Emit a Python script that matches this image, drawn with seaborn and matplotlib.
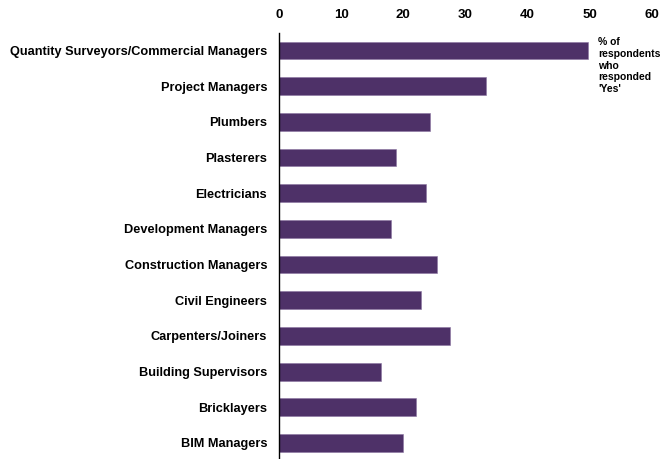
import matplotlib
matplotlib.use("Agg")
import matplotlib.pyplot as plt
import seaborn as sns
import pandas as pd

# Share of respondents answering 'Yes', by occupation
occupations = [
    "Quantity Surveyors/Commercial Managers",
    "Project Managers",
    "Plumbers",
    "Plasterers",
    "Electricians",
    "Development Managers",
    "Construction Managers",
    "Civil Engineers",
    "Carpenters/Joiners",
    "Building Supervisors",
    "Bricklayers",
    "BIM Managers",
]
pct_yes = [49.7, 33.4, 24.3, 18.8, 23.6, 18.1, 25.4, 22.9, 27.5, 16.5, 22.1, 19.9]
x_ticks = [0, 10, 20, 30, 40, 50, 60]

df = pd.DataFrame({"occupation": occupations, "pct": pct_yes})

sns.set_theme(style="white")
plt.rcParams["font.family"] = ["Liberation Sans", "DejaVu Sans"]
plt.rcParams["font.weight"] = "bold"

fig = plt.figure(figsize=(6.62, 4.59), dpi=100)
ax = fig.add_axes([0.4215, -0.004, 0.5628, 0.933])

sns.barplot(data=df, x="pct", y="occupation", orient="h", color="#4E3168",
            saturation=1, width=0.5, ax=ax, edgecolor="#8A74A0", linewidth=0.4)

ax.set_xlim(0, 60)
ax.set_ylim(11.5, -0.5)
ax.set_xticks(x_ticks)
ax.xaxis.tick_top()
ax.tick_params(axis="x", length=0, pad=8, labelsize=9.5)
ax.tick_params(axis="y", length=0, pad=8.6, labelsize=9.2)
for lab in ax.get_xticklabels() + ax.get_yticklabels():
    lab.set_fontweight("bold")
    lab.set_color("black")
ax.set_xlabel("")
ax.set_ylabel("")

for side in ["top", "right", "bottom"]:
    ax.spines[side].set_visible(False)
ax.spines["left"].set_color("black")
ax.spines["left"].set_linewidth(1.0)

fig.text(598 / 662, 1 - 37 / 459, "% of\nrespondents\nwho\nresponded\n'Yes'",
         ha="left", va="top", fontsize=7.5, fontweight="bold",
         linespacing=1.22, color="black")

fig.savefig("out.png", dpi=100, facecolor="white")
